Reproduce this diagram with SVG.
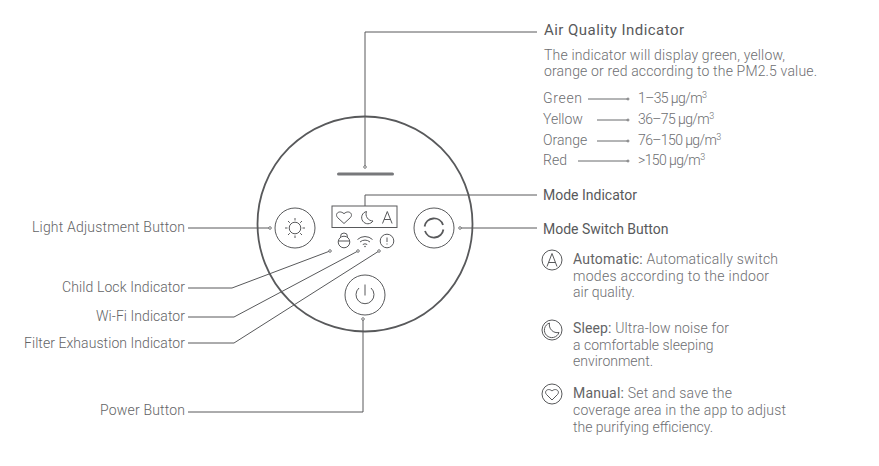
<svg xmlns="http://www.w3.org/2000/svg" width="879" height="466" viewBox="0 0 879 466">
<style>
text{font-family:"Roboto","Liberation Sans",sans-serif;font-size:14px;font-weight:300;fill:#6d6e71}
.d{fill:#58595b;font-weight:400}
.h{fill:#58595b;font-size:15px;font-weight:400}
.b{fill:#636466;font-weight:400}
.e{text-anchor:end;fill:#636466}
.v{letter-spacing:-0.6px}
.sup{font-size:9px}
.l{fill:none;stroke:#58595b;stroke-width:1}
.i{fill:none;stroke:#58595b;stroke-width:1}
.t{fill:#fff;stroke:#58595b;stroke-width:0.800}
</style>
<rect width="879" height="466" fill="#fff"/>
<g id="device">
<circle cx="365" cy="224" r="107.500" fill="none" stroke="#58595b" stroke-width="1.800"/>
<rect x="337" y="172.500" width="57" height="3" rx="1.500" fill="#77787b"/>
</g>
<g id="light-button" class="i">
<circle cx="295" cy="228" r="20"/>
<circle cx="295" cy="228" r="5.800"/>
<path d="M295 218v2.500M295 235.500v2.500M285 228h2.500M302.500 228h2.500M288 221l1.800 1.800M300.200 233.200l1.800 1.800M288 235l1.800-1.800M300.200 222.800l1.800-1.800"/>
</g>
<g id="mode-indicator" class="i">
<rect x="332" y="206" width="65" height="21.500"/>
<path d="M344 223.500l-6.300-5.800c-3.600-4 1.800-8.200 6.300-4 4.500-4.200 9.900 0 6.300 4z"/>
<path d="M366.500 211.500a6.200 6.200 0 1 0 6.500 9.500 7 7 0 0 1-6.500-9.500z"/>
<path d="M382.500 223.500l4.800-12 4.800 12M384 219.500h6.600"/>
</g>
<g id="mode-button" class="i">
<circle cx="434" cy="228" r="20"/>
<path d="M424.600 226.500a9.500 9.500 0 0 1 18.400-1.500M443.400 229.500a9.500 9.500 0 0 1-18.400 1.500" stroke-width="1.800"/>
</g>
<g id="child-lock" class="i">
<circle cx="344" cy="242" r="5.800"/>
<path d="M340.500 237.500v-1a3.500 3.500 0 0 1 7 0v1M338.500 241h11"/>
</g>
<g id="wifi" class="i">
<path d="M357.500 239.500a11 11 0 0 1 15 0M360 242a7.500 7.500 0 0 1 10 0M362.800 244.500a4 4 0 0 1 4.400 0"/>
<circle cx="365" cy="246.500" r="0.800" fill="#58595b" stroke="none"/>
</g>
<g id="filter" class="i">
<circle cx="387" cy="241" r="6.800"/>
<path d="M387 237.500v4.500M387 243.500v1"/>
</g>
<g id="power-button" class="i">
<circle cx="365" cy="295" r="20"/>
<path d="M359 288a9 9 0 1 0 12 0M365 284.500v11"/>
</g>
<g id="connectors" class="l">
<path d="M365 166V32H537"/>
<path d="M365 206V195H537"/>
<path d="M460 228H537"/>
<path d="M188 228H270"/>
<path d="M188 288H232L330 251"/>
<path d="M188 317H234L358 251"/>
<path d="M188 343H234L379 251"/>
<path d="M188 412H363V319"/>
<path d="M588 99H628M597 120H628M597 141H628M578 161H628" stroke-width="0.900"/>
<g class="t">
<circle cx="365" cy="167" r="1.300"/><circle cx="270" cy="228" r="1.300"/><circle cx="460" cy="228" r="1.300"/><circle cx="330" cy="251" r="1.300"/><circle cx="358" cy="251" r="1.300"/><circle cx="379" cy="251" r="1.300"/><circle cx="363" cy="319" r="1.300"/><circle cx="628" cy="99" r="1"/><circle cx="628" cy="120" r="1"/><circle cx="628" cy="141" r="1"/><circle cx="628" cy="161" r="1"/>
</g>
</g>
<g id="labels-left">
<text class="e" x="185" y="232" textLength="153">Light Adjustment Button</text>
<text class="e" x="185" y="292" textLength="123">Child Lock Indicator</text>
<text class="e" x="185" y="321" textLength="89">Wi-Fi Indicator</text>
<text class="e" x="185" y="348" textLength="161">Filter Exhaustion Indicator</text>
<text class="e" x="185" y="415" textLength="85">Power Button</text>
</g>
<g id="air-quality">
<text class="h" x="544" y="35" textLength="140">Air Quality Indicator</text>
<text x="544" y="60" textLength="241">The indicator will display green, yellow,</text>
<text x="544" y="76" textLength="273">orange or red according to the PM2.5 value.</text>
<text x="543" y="103" textLength="39">Green</text><text class="v" x="638" y="103">1–35 μg/m<tspan class="sup" dy="-5">3</tspan></text>
<text x="543" y="124">Yellow</text><text class="v" x="638" y="124">36–75 μg/m<tspan class="sup" dy="-5">3</tspan></text>
<text x="543" y="145">Orange</text><text class="v" x="638" y="145">76–150 μg/m<tspan class="sup" dy="-5">3</tspan></text>
<text x="543" y="165">Red</text><text class="v" x="638" y="165">&gt;150 μg/m<tspan class="sup" dy="-5">3</tspan></text>
</g>
<g id="mode-labels">
<text class="d" x="543" y="200">Mode Indicator</text>
<text class="d" x="543" y="234">Mode Switch Button</text>
</g>
<g id="automatic">
<circle class="i" cx="552" cy="260" r="10"/>
<path class="i" d="M547 266.500l5-13 5 13M548.800 262.500h6.400"/>
<text x="573" y="264" textLength="205"><tspan class="b">Automatic:</tspan> Automatically switch</text>
<text x="573" y="281" textLength="196">modes according to the indoor</text>
<text x="573" y="297">air quality.</text>
</g>
<g id="sleep">
<circle class="i" cx="552" cy="330" r="10"/>
<path class="i" d="M549.500 323a7.500 7.500 0 1 0 9.500 9.500 8 8 0 0 1-9.500-9.500z"/>
<text x="573" y="333" textLength="156"><tspan class="b">Sleep:</tspan> Ultra-low noise for</text>
<text x="573" y="350">a comfortable sleeping</text>
<text x="573" y="366">environment.</text>
</g>
<g id="manual">
<circle class="i" cx="552" cy="394" r="10"/>
<path class="i" d="M552 400l-5.500-5.500c-3-3.500 2-7 5.500-3.500 3.500-3.500 8.500 0 5.500 3.500z"/>
<text x="573" y="398" textLength="159"><tspan class="b">Manual:</tspan> Set and save the</text>
<text x="573" y="415" textLength="213">coverage area in the app to adjust</text>
<text x="573" y="432">the purifying efficiency.</text>
</g>
</svg>
